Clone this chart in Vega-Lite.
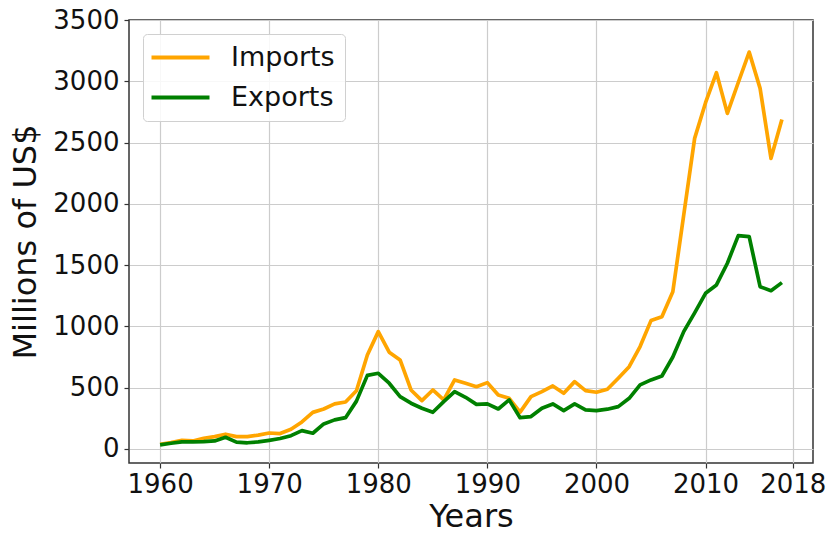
{
  "$schema": "https://vega.github.io/schema/vega-lite/v6.json",
  "autosize": "none",
  "width": 684,
  "height": 443,
  "padding": {"left": 129, "top": 20, "right": 16, "bottom": 76},
  "background": "white",
  "config": {
    "font": "DejaVu Sans",
    "view": {"stroke": "#333333", "strokeWidth": 1.5},
    "axis": {
      "domain": false,
      "grid": true,
      "gridColor": "#cccccc",
      "gridWidth": 1.2,
      "tickColor": "#333333",
      "tickSize": 5,
      "tickWidth": 1.2,
      "labelFont": "DejaVu Sans",
      "labelFontSize": 26,
      "labelColor": "#111111",
      "titleFont": "DejaVu Sans",
      "titleFontSize": 32,
      "titleFontWeight": "normal",
      "titleColor": "#111111"
    }
  },
  "data": {
    "values": [
      {"year": 1960, "series": "Imports", "value": 38},
      {"year": 1961, "series": "Imports", "value": 52},
      {"year": 1962, "series": "Imports", "value": 70},
      {"year": 1963, "series": "Imports", "value": 65},
      {"year": 1964, "series": "Imports", "value": 87},
      {"year": 1965, "series": "Imports", "value": 100},
      {"year": 1966, "series": "Imports", "value": 120},
      {"year": 1967, "series": "Imports", "value": 100},
      {"year": 1968, "series": "Imports", "value": 100},
      {"year": 1969, "series": "Imports", "value": 112},
      {"year": 1970, "series": "Imports", "value": 130},
      {"year": 1971, "series": "Imports", "value": 125},
      {"year": 1972, "series": "Imports", "value": 160},
      {"year": 1973, "series": "Imports", "value": 220},
      {"year": 1974, "series": "Imports", "value": 298},
      {"year": 1975, "series": "Imports", "value": 326},
      {"year": 1976, "series": "Imports", "value": 367},
      {"year": 1977, "series": "Imports", "value": 383},
      {"year": 1978, "series": "Imports", "value": 475},
      {"year": 1979, "series": "Imports", "value": 767},
      {"year": 1980, "series": "Imports", "value": 957},
      {"year": 1981, "series": "Imports", "value": 789},
      {"year": 1982, "series": "Imports", "value": 726},
      {"year": 1983, "series": "Imports", "value": 481},
      {"year": 1984, "series": "Imports", "value": 394},
      {"year": 1985, "series": "Imports", "value": 481},
      {"year": 1986, "series": "Imports", "value": 400},
      {"year": 1987, "series": "Imports", "value": 563},
      {"year": 1988, "series": "Imports", "value": 536},
      {"year": 1989, "series": "Imports", "value": 508},
      {"year": 1990, "series": "Imports", "value": 541},
      {"year": 1991, "series": "Imports", "value": 440},
      {"year": 1992, "series": "Imports", "value": 413},
      {"year": 1993, "series": "Imports", "value": 300},
      {"year": 1994, "series": "Imports", "value": 427},
      {"year": 1995, "series": "Imports", "value": 467},
      {"year": 1996, "series": "Imports", "value": 514},
      {"year": 1997, "series": "Imports", "value": 454},
      {"year": 1998, "series": "Imports", "value": 549},
      {"year": 1999, "series": "Imports", "value": 476},
      {"year": 2000, "series": "Imports", "value": 462},
      {"year": 2001, "series": "Imports", "value": 487},
      {"year": 2002, "series": "Imports", "value": 577},
      {"year": 2003, "series": "Imports", "value": 671},
      {"year": 2004, "series": "Imports", "value": 835},
      {"year": 2005, "series": "Imports", "value": 1047},
      {"year": 2006, "series": "Imports", "value": 1079},
      {"year": 2007, "series": "Imports", "value": 1283},
      {"year": 2008, "series": "Imports", "value": 1909},
      {"year": 2009, "series": "Imports", "value": 2534},
      {"year": 2010, "series": "Imports", "value": 2825},
      {"year": 2011, "series": "Imports", "value": 3070},
      {"year": 2012, "series": "Imports", "value": 2738},
      {"year": 2013, "series": "Imports", "value": 2990},
      {"year": 2014, "series": "Imports", "value": 3238},
      {"year": 2015, "series": "Imports", "value": 2942},
      {"year": 2016, "series": "Imports", "value": 2371},
      {"year": 2017, "series": "Imports", "value": 2689},
      {"year": 1960, "series": "Exports", "value": 33},
      {"year": 1961, "series": "Exports", "value": 46},
      {"year": 1962, "series": "Exports", "value": 57},
      {"year": 1963, "series": "Exports", "value": 57},
      {"year": 1964, "series": "Exports", "value": 60},
      {"year": 1965, "series": "Exports", "value": 65},
      {"year": 1966, "series": "Exports", "value": 95},
      {"year": 1967, "series": "Exports", "value": 55},
      {"year": 1968, "series": "Exports", "value": 50},
      {"year": 1969, "series": "Exports", "value": 57},
      {"year": 1970, "series": "Exports", "value": 70},
      {"year": 1971, "series": "Exports", "value": 85},
      {"year": 1972, "series": "Exports", "value": 108},
      {"year": 1973, "series": "Exports", "value": 149},
      {"year": 1974, "series": "Exports", "value": 128},
      {"year": 1975, "series": "Exports", "value": 204},
      {"year": 1976, "series": "Exports", "value": 237},
      {"year": 1977, "series": "Exports", "value": 255},
      {"year": 1978, "series": "Exports", "value": 390},
      {"year": 1979, "series": "Exports", "value": 600},
      {"year": 1980, "series": "Exports", "value": 617},
      {"year": 1981, "series": "Exports", "value": 536},
      {"year": 1982, "series": "Exports", "value": 427},
      {"year": 1983, "series": "Exports", "value": 373},
      {"year": 1984, "series": "Exports", "value": 332},
      {"year": 1985, "series": "Exports", "value": 299},
      {"year": 1986, "series": "Exports", "value": 386},
      {"year": 1987, "series": "Exports", "value": 467},
      {"year": 1988, "series": "Exports", "value": 421},
      {"year": 1989, "series": "Exports", "value": 363},
      {"year": 1990, "series": "Exports", "value": 367},
      {"year": 1991, "series": "Exports", "value": 326},
      {"year": 1992, "series": "Exports", "value": 400},
      {"year": 1993, "series": "Exports", "value": 255},
      {"year": 1994, "series": "Exports", "value": 264},
      {"year": 1995, "series": "Exports", "value": 332},
      {"year": 1996, "series": "Exports", "value": 367},
      {"year": 1997, "series": "Exports", "value": 313},
      {"year": 1998, "series": "Exports", "value": 367},
      {"year": 1999, "series": "Exports", "value": 318},
      {"year": 2000, "series": "Exports", "value": 313},
      {"year": 2001, "series": "Exports", "value": 324},
      {"year": 2002, "series": "Exports", "value": 345},
      {"year": 2003, "series": "Exports", "value": 413},
      {"year": 2004, "series": "Exports", "value": 522},
      {"year": 2005, "series": "Exports", "value": 563},
      {"year": 2006, "series": "Exports", "value": 595},
      {"year": 2007, "series": "Exports", "value": 750},
      {"year": 2008, "series": "Exports", "value": 957},
      {"year": 2009, "series": "Exports", "value": 1110},
      {"year": 2010, "series": "Exports", "value": 1270},
      {"year": 2011, "series": "Exports", "value": 1338},
      {"year": 2012, "series": "Exports", "value": 1515},
      {"year": 2013, "series": "Exports", "value": 1740},
      {"year": 2014, "series": "Exports", "value": 1732},
      {"year": 2015, "series": "Exports", "value": 1324},
      {"year": 2016, "series": "Exports", "value": 1291},
      {"year": 2017, "series": "Exports", "value": 1357}
    ]
  },
  "mark": {"type": "line", "strokeWidth": 3.7, "strokeJoin": "round", "clip": true},
  "encoding": {
    "x": {
      "field": "year",
      "type": "quantitative",
      "scale": {"domain": [1957.15, 2019.85], "nice": false, "zero": false},
      "axis": {
        "title": "Years",
        "values": [1960, 1970, 1980, 1990, 2000, 2010, 2018],
        "format": "d",
        "labelPadding": 3,
        "titlePadding": 4,
        "labelFlush": false
      }
    },
    "y": {
      "field": "value",
      "type": "quantitative",
      "scale": {"domain": [-115, 3500], "nice": false, "zero": false},
      "axis": {
        "title": "Millions of US$",
        "values": [0, 500, 1000, 1500, 2000, 2500, 3000, 3500],
        "format": "d",
        "labelPadding": 5,
        "titlePadding": 10,
        "labelFlush": false
      }
    },
    "color": {
      "field": "series",
      "type": "nominal",
      "sort": ["Imports", "Exports"],
      "scale": {"domain": ["Imports", "Exports"], "range": ["#FFA500", "#008000"]},
      "legend": {
        "title": null,
        "orient": "top-left",
        "offset": 14,
        "symbolType": "M-2.9,0H2.9",
        "symbolSize": 400,
        "symbolOffset": 14,
        "symbolStrokeWidth": 4,
        "labelFontSize": 27,
        "labelFont": "DejaVu Sans",
        "labelColor": "#111111",
        "labelOffset": 37,
        "rowPadding": 12,
        "padding": 10,
        "strokeColor": "#d0d0d0",
        "fillColor": "rgba(255,255,255,0.85)",
        "cornerRadius": 4
      }
    }
  }
}
